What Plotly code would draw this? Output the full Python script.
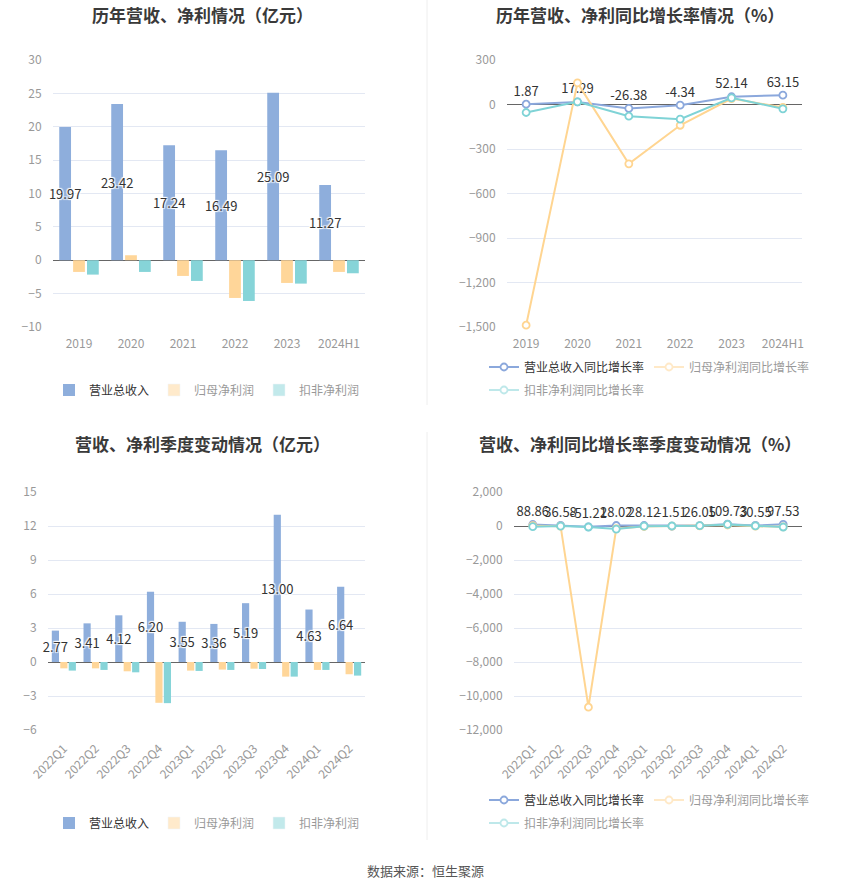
import plotly.graph_objects as go

FONT = "Noto Sans CJK SC"

# ---- annual data ----
years = ["2019", "2020", "2021", "2022", "2023", "2024H1"]
rev_annual = [19.97, 23.42, 17.24, 16.49, 25.09, 11.27]
np_annual = [-1.75, 0.75, -2.35, -5.65, -3.40, -1.75]
dnp_annual = [-2.15, -1.75, -3.10, -6.10, -3.50, -1.95]

rev_growth_annual = [1.87, 17.29, -26.38, -4.34, 52.14, 63.15]
np_growth_annual = [-1488, 146, -400, -140, 40, -20]
dnp_growth_annual = [-54, 18, -79, -99, 45, -29]

# ---- quarterly data ----
quarters = ["2022Q1", "2022Q2", "2022Q3", "2022Q4", "2023Q1", "2023Q2",
            "2023Q3", "2023Q4", "2024Q1", "2024Q2"]
rev_q = [2.77, 3.41, 4.12, 6.20, 3.55, 3.36, 5.19, 13.00, 4.63, 6.64]
np_q = [-0.56, -0.56, -0.82, -3.60, -0.76, -0.67, -0.59, -1.29, -0.70, -1.08]
dnp_q = [-0.76, -0.70, -0.91, -3.63, -0.79, -0.70, -0.62, -1.29, -0.70, -1.20]

rev_growth_q = [88.86, 36.58, -51.21, 28.02, 28.12, -1.51, 26.05, 109.73, 30.55, 97.53]
np_growth_q = [20, -10, -10660, -150, -30, -5, 10, 60, -10, -50]
dnp_growth_q = [-40, -5, -60, -180, -10, 0, 20, 90, 5, -60]

# ---- names / titles ----
bar_names = ["营业总收入", "归母净利润", "扣非净利润"]
line_names = ["营业总收入同比增长率", "归母净利润同比增长率", "扣非净利润同比增长率"]
titles = ["历年营收、净利情况（亿元）", "历年营收、净利同比增长率情况（%）",
          "营收、净利季度变动情况（亿元）", "营收、净利同比增长率季度变动情况（%）"]
source_text = "数据来源：恒生聚源"

BAR_COLORS = ["#8eaedc", "#ffd699", "#86d4d8"]
LINE_COLORS = ["#8ba8dc", "#ffd591", "#7fd3d6"]

W, H = 850, 891
def px(x): return x / W
def py(y): return 1 - y / H

fig = go.Figure()

label_font = dict(family=FONT, size=13, color="#333",
                  shadow="1px 1px 1px #fff, -1px -1px 1px #fff, 1px -1px 1px #fff, -1px 1px 1px #fff")

def add_bars(xs, series, xa, ya, legends):
    for i, (vals, name) in enumerate(zip(series, bar_names)):
        fig.add_trace(go.Bar(
            x=xs, y=vals, name=name, xaxis=xa, yaxis=ya,
            marker=dict(color=BAR_COLORS[i], line=dict(width=0)),
            text=[f"{v:.2f}" for v in vals] if i == 0 else None,
            textposition="inside" if i == 0 else None,
            insidetextanchor="middle", textangle=0, constraintext="none",
            insidetextfont=label_font, cliponaxis=False,
            showlegend=(i == 0), legend=legends[0], hoverinfo="skip"))
    for i in (1, 2):
        fig.add_trace(go.Bar(
            x=xs, y=series[i], name=bar_names[i], xaxis=xa, yaxis=ya,
            marker=dict(color=BAR_COLORS[i]), visible="legendonly",
            legend=legends[0], showlegend=True))

def add_lines(xs, series, xa, ya, legends):
    for i, (vals, name) in enumerate(zip(series, line_names)):
        fig.add_trace(go.Scatter(
            x=xs, y=vals, name=name, xaxis=xa, yaxis=ya,
            mode="lines+markers+text" if i == 0 else "lines+markers",
            line=dict(color=LINE_COLORS[i], width=2),
            marker=dict(symbol="circle", size=7, color="#fff",
                        line=dict(color=LINE_COLORS[i], width=1.8)),
            text=[f"{v:.2f}" for v in vals] if i == 0 else None,
            textposition="top center",
            textfont=dict(family=FONT, size=13, color="#333"),
            showlegend=(i == 0), legend=legends[0], hoverinfo="skip",
            cliponaxis=False))
    for i in (1, 2):
        fig.add_trace(go.Scatter(
            x=xs, y=series[i], name=line_names[i], xaxis=xa, yaxis=ya,
            mode="lines+markers",
            line=dict(color=LINE_COLORS[i], width=2),
            marker=dict(symbol="circle", size=7, color="#fff",
                        line=dict(color=LINE_COLORS[i], width=1.8)),
            visible="legendonly", legend=legends[i - 1], showlegend=True))

add_bars(years, [rev_annual, np_annual, dnp_annual], "x", "y", ["legend"])
add_lines(years, [rev_growth_annual, np_growth_annual, dnp_growth_annual], "x2", "y2",
          ["legend2", "legend3"])
add_bars(quarters, [rev_q, np_q, dnp_q], "x3", "y3", ["legend4"])
add_lines(quarters, [rev_growth_q, np_growth_q, dnp_growth_q], "x4", "y4",
          ["legend5", "legend6"])

tick_font = dict(family=FONT, size=12, color="#999")
grid = "#e3e8f3"

def xaxis(domain, anchor, angle):
    return dict(domain=domain, anchor=anchor, type="category", showgrid=False,
                showline=False, zeroline=False, tickfont=tick_font, tickangle=angle,
                ticks="outside", ticklen=6, tickcolor="rgba(0,0,0,0)", fixedrange=True,
                automargin=False)

def yaxis(domain, anchor, rng, dtick):
    return dict(domain=domain, anchor=anchor, range=rng, dtick=dtick, showgrid=True,
                gridcolor=grid, gridwidth=1, zeroline=True, zerolinecolor="#666",
                zerolinewidth=1, showline=False, tickfont=tick_font, tickformat=",",
                ticks="outside", ticklen=8, tickcolor="rgba(0,0,0,0)", fixedrange=True,
                automargin=False)

top_y = [py(327), py(60)]
bot_y = [py(730), py(492)]

legend_common = dict(orientation="h", font=dict(family=FONT, size=12, color="#333"),
                     bgcolor="rgba(0,0,0,0)", yanchor="middle", itemclick=False,
                     itemdoubleclick=False, tracegroupgap=0)

fig.update_layout(
    width=W, height=H, margin=dict(l=0, r=0, t=0, b=0, autoexpand=False),
    paper_bgcolor="#fff", plot_bgcolor="#fff",
    barmode="group", bargap=0.2, bargroupgap=0.15,
    font=dict(family=FONT),
    xaxis=xaxis([px(53), px(365)], "y", 0),
    yaxis=yaxis(top_y, "x", [-10, 30], 5),
    xaxis2=xaxis([px(507), px(802)], "y2", 0),
    yaxis2=yaxis(top_y, "x2", [-1500, 300], 300),
    xaxis3=xaxis([px(48), px(365)], "y3", -45),
    yaxis3=yaxis(bot_y, "x3", [-6, 15], 3),
    xaxis4=xaxis([px(514), px(802)], "y4", -45),
    yaxis4=yaxis(bot_y, "x4", [-12000, 2000], 2000),
    legend=dict(x=px(207), xanchor="center", y=py(390), **legend_common),
    legend2=dict(x=px(484), xanchor="left", y=py(367), **legend_common),
    legend3=dict(x=px(484), xanchor="left", y=py(390), **legend_common),
    legend4=dict(x=px(207), xanchor="center", y=py(823), **legend_common),
    legend5=dict(x=px(484), xanchor="left", y=py(800), **legend_common),
    legend6=dict(x=px(484), xanchor="left", y=py(823), **legend_common),
)

title_pos = [(202, 14), (640, 14), (202, 444), (640, 444)]
for t, (tx, ty) in zip(titles, title_pos):
    fig.add_annotation(text=f"<b>{t}</b>", x=px(tx), y=py(ty), xref="paper", yref="paper",
                       xanchor="center", yanchor="middle", showarrow=False,
                       font=dict(family=FONT, size=17, color="#3a3a3a"))

fig.add_annotation(text=source_text, x=px(425), y=py(870), xref="paper", yref="paper",
                   xanchor="center", yanchor="middle", showarrow=False,
                   font=dict(family=FONT, size=13, color="#555"))

for y0, y1 in [(0, 405), (432, 840)]:
    fig.add_shape(type="line", xref="paper", yref="paper", x0=px(427), x1=px(427),
                  y0=py(y1), y1=py(y0), line=dict(color="#eeeeee", width=1))

fig.write_html("out.html", config={"displayModeBar": False},
               post_script="document.body.style.margin='0';")
